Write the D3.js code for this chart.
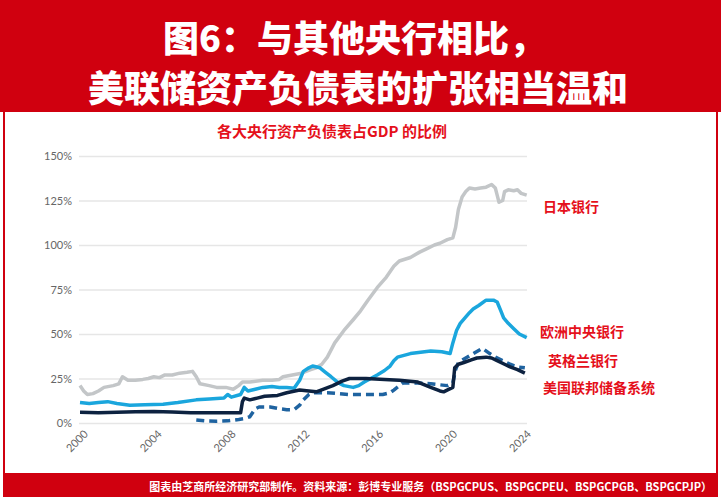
<!DOCTYPE html>
<html>
<head>
<meta charset="utf-8">
<script src="https://cdn.jsdelivr.net/npm/d3@7"></script>
<style>
html,body{margin:0;padding:0;background:#fff;}
svg{display:block;}
</style>
</head>
<body>
<svg id="chart" width="721" height="500"></svg>
<script>
// ---------- data ----------
const yTicks = [0, 25, 50, 75, 100, 125, 150];
const xTicks = [2000, 2004, 2008, 2012, 2016, 2020, 2024];

const bojYears = [2000.0,2000.2,2000.4,2000.7,2001.0,2001.3,2001.8,2002.1,2002.3,2002.6,2003.0,2003.4,2003.7,2004.0,2004.3,2004.6,2005.0,2005.4,2005.8,2006.1,2006.3,2006.5,2007.0,2007.4,2007.9,2008.3,2008.6,2008.8,2009.2,2009.9,2010.4,2010.8,2011.0,2011.5,2012.0,2012.5,2012.8,2013.1,2013.4,2013.8,2014.3,2014.8,2015.2,2015.6,2016.1,2016.6,2017.0,2017.3,2017.9,2018.4,2018.8,2019.2,2019.5,2019.9,2020.2,2020.35,2020.5,2020.7,2020.9,2021.1,2021.4,2021.7,2022.0,2022.3,2022.5,2022.6,2022.7,2022.9,2023.0,2023.2,2023.5,2023.7,2023.9,2024.2];
const bojValues = [21,18,16,16.5,18,20,21,22,26,24,24,24.5,25,26,25.5,27,27,28,28.5,29,26,22,21,20,20,19,21,23,23,24,24,24.5,26,27,28,30,31,33,37,45,52,58,63,69,76,82,88,91,93,96,98,100,101,103,104,110,120,127,130,132,131.5,132,132.5,134,132,128,124,125,130,131,130.5,131,129,128];

const ecbYears = [2000,2000.5,2001,2001.5,2002,2002.7,2003.5,2004.5,2005.3,2006.3,2007,2007.8,2008.0,2008.2,2008.7,2008.9,2009.1,2009.5,2009.9,2010.4,2010.8,2011.2,2011.6,2011.9,2012.1,2012.4,2012.6,2013.0,2013.3,2013.6,2014.0,2014.3,2014.8,2015.1,2015.4,2016.1,2016.5,2016.8,2017.0,2017.2,2017.9,2019.0,2019.6,2020.05,2020.2,2020.4,2020.6,2021.1,2021.3,2021.6,2022.0,2022.4,2022.6,2022.8,2022.95,2023.2,2023.5,2023.8,2024.2];
const ecbValues = [11.5,11,11.5,12,11,10,10.2,10.5,11.5,13,13.5,14,16,14.5,16,20,18,19,20,20.5,20,20,19.5,24,29,31,32,31,28.5,26,22.5,21,20,21,23,27,29.5,32,35,37,39,40.5,40,39,45,52,56,62,64,66,69,69,68,63,59,56,53,50,48];

const boeYears = [2006.3,2006.8,2007.4,2008,2008.6,2008.9,2009.2,2009.5,2009.7,2010.3,2010.8,2011.2,2011.6,2011.9,2012.1,2012.4,2012.6,2013.4,2014.6,2015.5,2016.4,2016.8,2017.0,2017.5,2018.3,2019.0,2019.9,2020.2,2020.35,2020.5,2020.9,2021.3,2021.8,2022.2,2022.5,2022.9,2023.3,2023.7,2024.1];
const boeValues = [1.7,1.2,1,1.2,2,2.5,3.5,8,9,9,8,7.5,7.5,10,13,16,17,17,16,16,16,17,18.5,22.5,22.5,22,21,22.5,30,34,36.5,39,42,39,37,35,33,31.5,31];

const fedYears = [2000,2001,2002,2003,2004,2005,2006,2007,2008.7,2008.8,2008.9,2009.2,2009.6,2010,2010.7,2011.2,2011.9,2012.4,2012.8,2013.2,2013.7,2014.2,2014.6,2015.5,2016.5,2017.3,2018.3,2019.0,2019.5,2019.7,2020.0,2020.2,2020.3,2020.5,2020.8,2021.2,2021.5,2022.0,2022.3,2022.6,2023.0,2023.3,2023.7,2024.1];
const fedValues = [6,5.8,6,6.3,6.5,6.2,5.8,5.7,5.7,12,14,13,14,15,15.5,17,18.5,18,17.5,19,21,23.5,25,25,24.5,24,23,20,18,17.5,19,20,31,33,34,35.5,36.5,37,36.5,35,33,31.5,30,28];

const seriesNames = ["日本银行", "欧洲中央银行", "英格兰银行", "美国联邦储备系统"];

const titleLines = ["图6：与其他央行相比，", "美联储资产负债表的扩张相当温和"];
const subtitle = "各大央行资产负债表占GDP 的比例";
const footer = "图表由芝商所经济研究部制作。资料来源：彭博专业服务（BSPGCPUS、BSPGCPEU、BSPGCPGB、BSPGCPJP）";

// ---------- drawing ----------
const svg = d3.select("#chart");
const RED = "#d0000f";
const CJK = "'Noto Sans CJK SC','Noto Sans',sans-serif";
const LAT = "Lato, 'Open Sans', sans-serif";

// frame
svg.append("rect").attr("x",0).attr("y",0).attr("width",721).attr("height",112).attr("fill",RED);
svg.append("rect").attr("x",4).attr("y",111).attr("width",713).attr("height",363)
  .attr("fill","#fff").attr("stroke",RED).attr("stroke-width",2);
svg.append("rect").attr("x",3).attr("y",473).attr("width",715).attr("height",24).attr("fill",RED);

// title
svg.append("text").attr("x",163).attr("y",52).text(titleLines[0])
  .attr("fill","#fff").attr("font-family",CJK).attr("font-weight",900).attr("font-size",36);
svg.append("text").attr("x",88).attr("y",102).text(titleLines[1])
  .attr("fill","#fff").attr("font-family",CJK).attr("font-weight",900).attr("font-size",36);

// subtitle
svg.append("text").attr("x",332).attr("y",137).attr("text-anchor","middle").text(subtitle)
  .attr("fill","#e5101b").attr("font-family",CJK).attr("font-weight",700).attr("font-size",15);

// footer
svg.append("text").attr("x",712).attr("y",491).attr("text-anchor","end").text(footer)
  .attr("fill","#fff").attr("font-family",CJK).attr("font-weight",700).attr("font-size",11);

// scales
const x = d3.scaleLinear().domain([2000, 2024]).range([80, 523]);
const y = d3.scaleLinear().domain([0, 150]).range([423, 156]);

// y grid + labels
const yAxis = d3.axisLeft(y).tickValues(yTicks).tickSize(-448).tickPadding(7)
  .tickFormat(d => d + "%");
const gy = svg.append("g").attr("transform","translate(79,0)").call(yAxis);
gy.select(".domain").remove();
gy.selectAll(".tick line").attr("stroke","#e6e6e6").attr("stroke-width",1.5);
gy.selectAll(".tick text").attr("fill","#666").attr("font-family",LAT).attr("font-size",11);

// x labels (rotated -45deg via matrix)
const c45 = Math.SQRT1_2;
const xg = svg.append("g").selectAll("g").data(xTicks).join("g")
  .attr("transform", d => `matrix(${c45},${-c45},${c45},${c45},${x(d) + 6},432)`);
xg.append("text")
  .attr("x",0).attr("y",0)
  .attr("text-anchor","end")
  .attr("dy","0.35em")
  .attr("fill","#666").attr("font-family",LAT).attr("font-size",11)
  .text(d => d);

// lines
const mk = (ys, vs) => ys.map((t, i) => [t, vs[i]]);
const line = d3.line().x(d => x(d[0])).y(d => y(d[1]));
const series = [
  {data: mk(bojYears, bojValues), color: "#c3c6c8", dash: null},
  {data: mk(ecbYears, ecbValues), color: "#1aa6dd", dash: null},
  {data: mk(boeYears, boeValues), color: "#1f63a0", dash: "8,5"},
  {data: mk(fedYears, fedValues), color: "#0d2240", dash: null}
];
svg.append("g").selectAll("path").data(series).join("path")
  .attr("d", d => line(d.data))
  .attr("fill","none")
  .attr("stroke", d => d.color)
  .attr("stroke-width", 3.5)
  .attr("stroke-linejoin","round")
  .attr("stroke-dasharray", d => d.dash);

// right labels
const labelPos = [[543,212],[540,337],[548,366],[543,393]];
svg.append("g").selectAll("text").data(seriesNames).join("text")
  .attr("x",(d,i)=>labelPos[i][0]).attr("y",(d,i)=>labelPos[i][1])
  .text(d=>d).attr("fill","#e5101b").attr("font-family",CJK).attr("font-weight",700).attr("font-size",14);
</script>
</body>
</html>
